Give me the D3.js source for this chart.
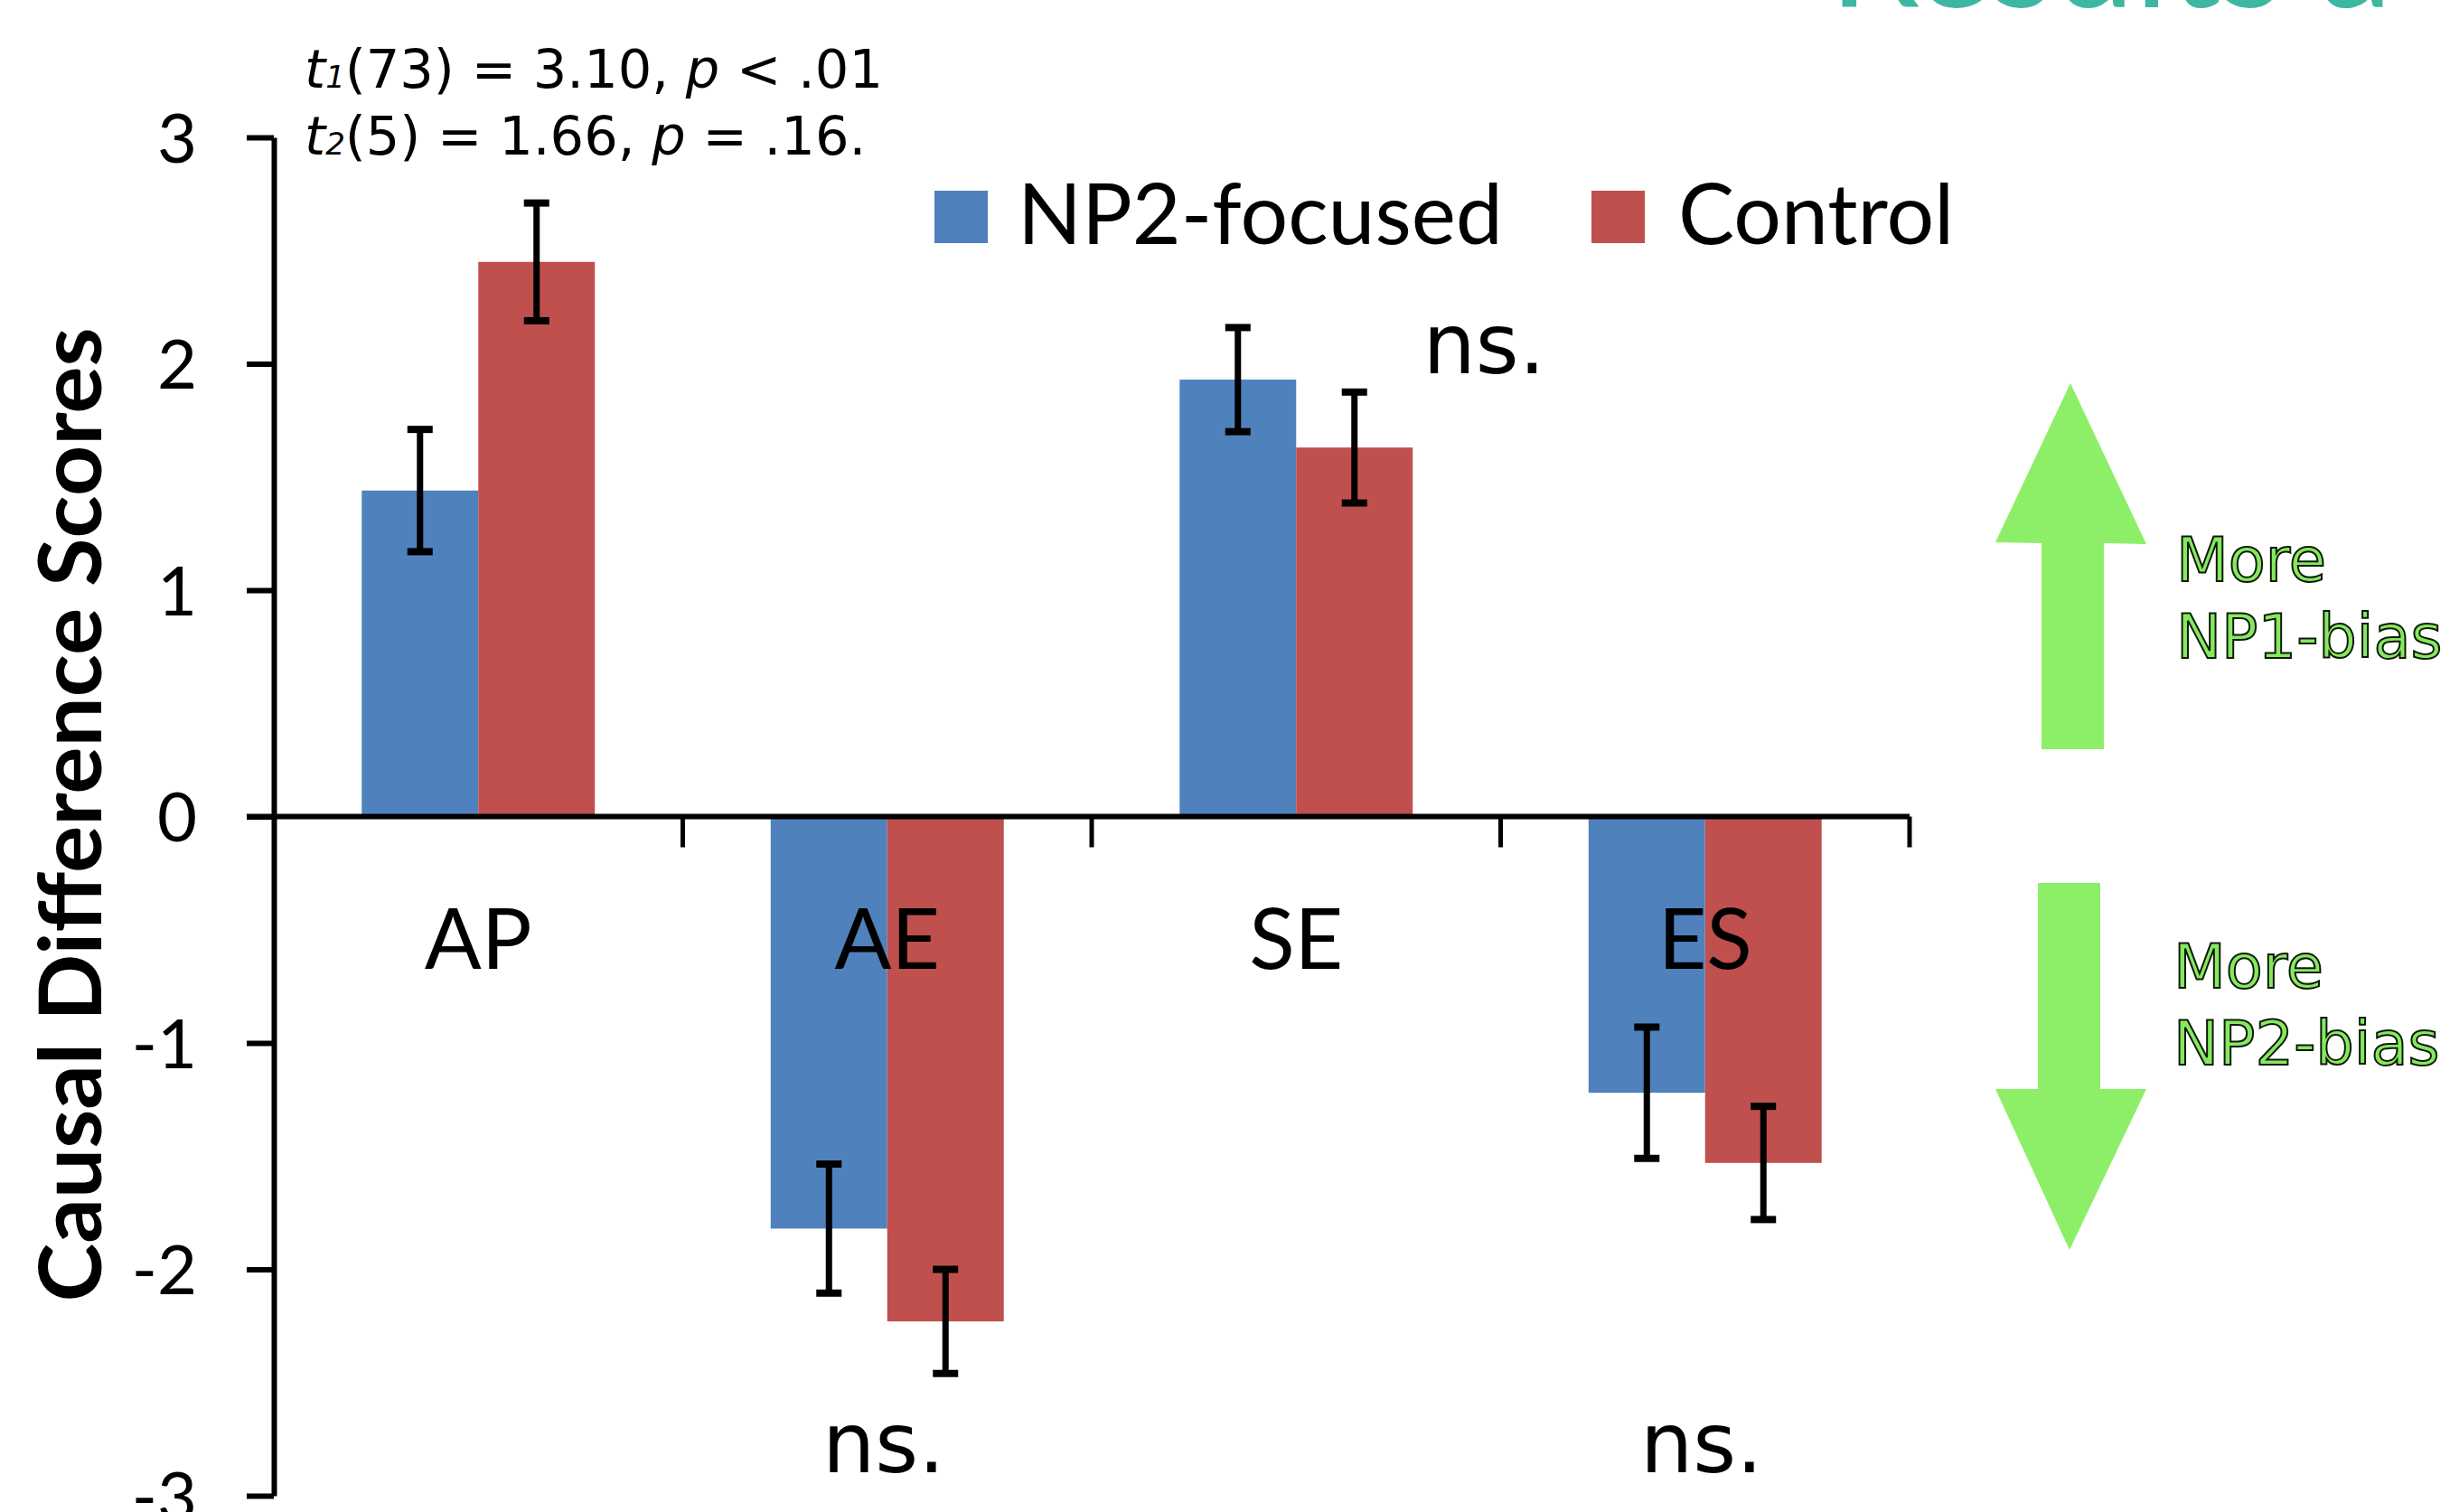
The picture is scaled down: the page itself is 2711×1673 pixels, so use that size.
<!DOCTYPE html>
<html>
<head>
<meta charset="utf-8">
<script src="https://cdn.jsdelivr.net/npm/d3@7"></script>
<style>
  html, body { margin: 0; padding: 0; background: #fff; }
  svg { display: block; }
</style>
</head>
<body>
<script>
// ---- data ----
const categories = ["AP", "AE", "SE", "ES"];
const seriesNames = ["NP2-focused", "Control"];
const np2Focused = [1.44, -1.82, 1.93, -1.22];
const np2FocusedErr = [0.27, 0.285, 0.23, 0.29];
const control = [2.45, -2.23, 1.63, -1.53];
const controlErr = [0.26, 0.23, 0.245, 0.25];
const yTicks = [-3, -2, -1, 0, 1, 2, 3];
const yTitle = "Causal Difference Scores";
const statLines = [
  { t: "t", sub: "1", rest: "(73) = 3.10, ", p: "p", tail: " < .01" },
  { t: "t", sub: "2", rest: "(5) = 1.66, ", p: "p", tail: " = .16." }
];
const nsNotes = [
  { cat: "SE", side: "top", text: "ns." },
  { cat: "AE", side: "bottom", text: "ns." },
  { cat: "ES", side: "bottom", text: "ns." }
];
const arrowLabels = [["More", "NP1-bias"], ["More", "NP2-bias"]];
const slideTitle = "Results a";

// ---- layout ----
const W = 2711, H = 1673;
const colors = ["#4F81BD", "#C0504D"];
const axisX = 303, xEnd = 2113;
const yTop = 152, yBot = 1655;

const svg = d3.select("body").append("svg")
  .attr("width", W).attr("height", H)
  .attr("viewBox", `0 0 ${W} ${H}`);
svg.append("rect").attr("width", W).attr("height", H).attr("fill", "#fff");

const y = d3.scaleLinear().domain([-3, 3]).range([yBot, yTop]);
const x = d3.scaleBand().domain(categories).range([axisX, xEnd])
  .paddingInner(0.43).paddingOuter(0.215);
const xSub = d3.scaleBand().domain(seriesNames).range([0, x.bandwidth()]);
const step = x.step();

const series = [
  { name: seriesNames[0], vals: np2Focused, errs: np2FocusedErr, color: colors[0] },
  { name: seriesNames[1], vals: control, errs: controlErr, color: colors[1] }
];

// slide title (cut off at top)
svg.append("text").attr("x", 2024).attr("y", 8)
  .attr("font-family", "Lato, sans-serif").attr("font-size", 160)
  .attr("fill", "#3DB7A1").text(slideTitle);

// bars
const gBars = svg.append("g");
series.forEach(s => {
  gBars.selectAll(null).data(categories).enter().append("rect")
    .attr("x", (c) => x(c) + xSub(s.name))
    .attr("width", xSub.bandwidth())
    .attr("y", (c, i) => y(Math.max(0, s.vals[i])))
    .attr("height", (c, i) => Math.abs(y(s.vals[i]) - y(0)))
    .attr("fill", s.color);
});

// y axis
const yAxis = d3.axisLeft(y).tickValues(yTicks).tickSize(30).tickSizeOuter(0).tickPadding(55)
  .tickFormat(d3.format("d"));
const gy = svg.append("g").attr("transform", `translate(${axisX},0)`).call(yAxis);
gy.select(".domain").attr("stroke", "#000").attr("stroke-width", 6);
gy.selectAll(".tick line").attr("stroke", "#000").attr("stroke-width", 6);
gy.selectAll(".tick text").attr("font-family", "Lato, 'Open Sans', sans-serif")
  .attr("font-size", 76).attr("fill", "#000").attr("dy", "0.36em")
  .text(d => d < 0 ? "-" + Math.abs(d) : d);

// x axis line at zero
const gx = svg.append("g");
gx.append("line").attr("x1", axisX - 30).attr("x2", xEnd)
  .attr("y1", y(0)).attr("y2", y(0)).attr("stroke", "#000").attr("stroke-width", 6);
gx.selectAll(null).data(categories).enter().append("line")
  .attr("x1", (c, i) => x.range()[0] + step * (i + 1))
  .attr("x2", (c, i) => x.range()[0] + step * (i + 1))
  .attr("y1", y(0)).attr("y2", y(0) + 34)
  .attr("stroke", "#000").attr("stroke-width", 5);

// error bars
const gErr = svg.append("g").attr("stroke", "#000");
series.forEach(s => {
  categories.forEach((c, i) => {
    const cx = x(c) + xSub(s.name) + xSub.bandwidth() / 2;
    const hi = y(s.vals[i] + s.errs[i]), lo = y(s.vals[i] - s.errs[i]);
    gErr.append("line").attr("x1", cx).attr("x2", cx).attr("y1", hi).attr("y2", lo).attr("stroke-width", 7);
    gErr.append("line").attr("x1", cx - 14).attr("x2", cx + 14).attr("y1", hi).attr("y2", hi).attr("stroke-width", 8);
    gErr.append("line").attr("x1", cx - 14).attr("x2", cx + 14).attr("y1", lo).attr("y2", lo).attr("stroke-width", 8);
  });
});

// category labels
svg.append("g").selectAll("text").data(categories).enter().append("text")
  .attr("x", c => x(c) + x.bandwidth() / 2)
  .attr("y", 1072)
  .attr("text-anchor", "middle")
  .attr("font-family", "Lato, 'Open Sans', sans-serif")
  .attr("font-size", 93).attr("fill", "#000")
  .text(c => c);

// y title
svg.append("text")
  .attr("transform", `translate(112,${y(0) - 2}) rotate(-90)`)
  .attr("text-anchor", "middle")
  .attr("font-family", "Lato, sans-serif").attr("font-weight", 700)
  .attr("font-size", 96).attr("fill", "#000")
  .attr("textLength", 1078).attr("lengthAdjust", "spacingAndGlyphs")
  .text(yTitle);

// legend
const leg = svg.append("g");
const legPos = [{ sx: 1034, tx: 1126 }, { sx: 1761, tx: 1857 }];
series.forEach((s, i) => {
  leg.append("rect").attr("x", legPos[i].sx).attr("y", 211).attr("width", 59).attr("height", 58).attr("fill", s.color);
  leg.append("text").attr("x", legPos[i].tx).attr("y", 270)
    .attr("font-family", "Lato, 'Open Sans', sans-serif").attr("font-size", 93).attr("fill", "#000")
    .text(s.name);
});

// statistics text
const stat = svg.append("g").attr("font-family", "'DejaVu Sans', Verdana, sans-serif").attr("font-size", 59).attr("fill", "#000");
statLines.forEach((l, i) => {
  const t = stat.append("text").attr("x", 337).attr("y", 97 + i * 74);
  t.append("tspan").attr("font-style", "italic").text(l.t);
  t.append("tspan").attr("font-style", "italic").attr("font-size", 34).text(l.sub);
  t.append("tspan").text(l.rest);
  t.append("tspan").attr("font-style", "italic").text(l.p);
  t.append("tspan").text(l.tail);
});

// ns. annotations
const nsG = svg.append("g").attr("font-family", "'DejaVu Sans', Verdana, sans-serif").attr("font-size", 92).attr("fill", "#000");
nsNotes.forEach(n => {
  const cx = x(n.cat) + x.bandwidth() / 2;
  nsG.append("text")
    .attr("x", n.side === "top" ? cx + 208 : cx - 4)
    .attr("y", n.side === "top" ? 413 : 1629)
    .attr("text-anchor", "middle")
    .text(n.text);
});

// arrows
const green = "#8DEF68";
const up = [[2291, 424], [2375, 602], [2328, 601], [2328, 829], [2259, 829], [2259, 601], [2208, 600]];
const down = [[2255, 977], [2324, 977], [2324, 1205], [2375, 1205], [2290, 1383], [2208, 1205], [2255, 1205]];
[up, down].forEach(pts => {
  svg.append("path").attr("d", d3.line()(pts) + "Z").attr("fill", green);
});
const arrowText = svg.append("g").attr("font-family", "'DejaVu Sans', Verdana, sans-serif")
  .attr("font-size", 67).attr("fill", "#86E860").attr("stroke", "#0d1a08").attr("stroke-width", 2);
arrowLabels.forEach((lines, i) => {
  const base = i === 0 ? [643, 728] : [1093, 1178];
  const x0 = i === 0 ? 2408 : 2405;
  lines.forEach((ln, j) => {
    arrowText.append("text").attr("x", x0).attr("y", base[j]).text(ln);
  });
});
</script>
</body>
</html>
